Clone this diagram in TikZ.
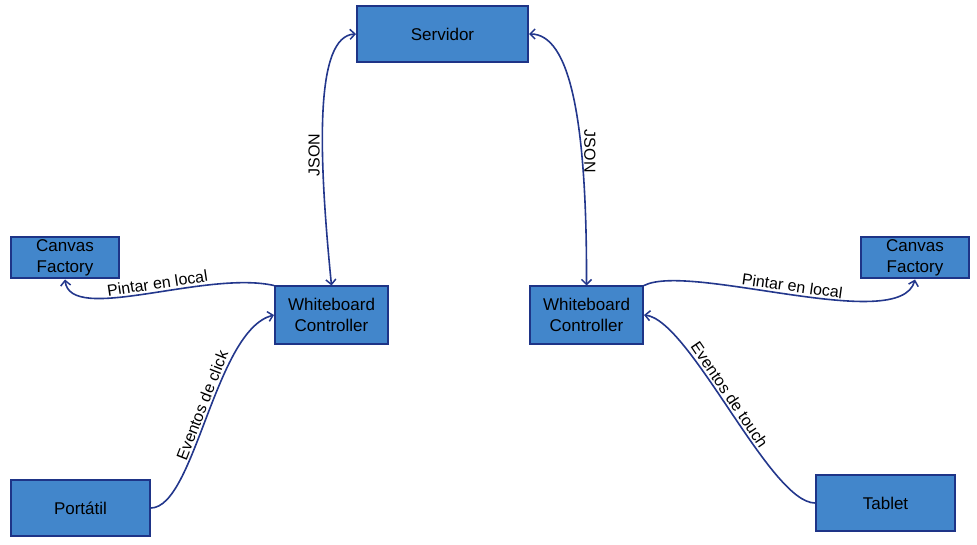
\documentclass[tikz,border=0pt]{standalone}
\usepackage{fontspec}
\setmainfont{Liberation Sans}
\usetikzlibrary{arrows.meta}
\definecolor{boxfill}{RGB}{66,134,203}
\definecolor{boxline}{RGB}{30,52,135}
\definecolor{linkcol}{RGB}{35,55,140}
\begin{document}
\begin{tikzpicture}[x=1pt,y=-1pt,
  >={Straight Barb[length=5pt,width=10pt,line width=1.5pt]},
  box/.style={draw=boxline,fill=boxfill,line width=2pt,inner sep=0pt,align=center,
    font=\fontsize{17}{21}\selectfont,text=black},
  link/.style={draw=linkcol,line width=1.6pt},
  lblfont/.style={font=\fontsize{16}{18}\selectfont,text=black,inner sep=2pt},
  lbl/.style={lblfont,sloped,above}]
\useasboundingbox (0,0) rectangle (977,545);
\node[box,minimum width=171pt,minimum height=56pt] (serv) at (442.5,34) {Servidor};
\node[box,minimum width=113pt,minimum height=57pt] (lwc) at (331.5,315) {Whiteboard\\Controller};
\node[box,minimum width=113pt,minimum height=57pt] (rwc) at (586.5,315) {Whiteboard\\Controller};
\node[box,minimum width=108pt,minimum height=41pt] (lcf) at (65,258) {Canvas\\Factory};
\node[box,minimum width=108pt,minimum height=41pt] (rcf) at (915,258) {Canvas\\Factory};
\node[box,minimum width=139pt,minimum height=56pt] (port) at (80.5,508) {Portátil};
\node[box,minimum width=139pt,minimum height=56pt] (tab) at (885.5,503) {Tablet};
% JSON links
\draw[link,<->]
  (lwc.north) .. controls (318,150) and (315,36) .. (serv.west)
  node[lblfont,pos=0.35,rotate=90,anchor=south] {JSON};
\draw[link,<->]
  (serv.east) .. controls (570,34) and (587,120) .. (rwc.north)
  node[lblfont,pos=0.68,rotate=-90,anchor=south] {JSON};
% Pintar en local
\draw[link,<-]
  (lcf.south) .. controls (70,325) and (205,270) .. (lwc.north west)
  node[lbl,pos=0.55] {Pintar en local};
\draw[link,->]
  (rwc.north east) .. controls (690,262) and (900,335) .. (rcf.south)
  node[lbl,pos=0.5] {Pintar en local};
% Eventos
\draw[link,->]
  (port.east) .. controls (195,507) and (215,330) .. (lwc.west)
  node[lbl,pos=0.53] {Eventos de click};
\draw[link,<-]
  (rwc.east) .. controls (690,320) and (770,503) .. (tab.west)
  node[lbl,pos=0.46] {Eventos de touch};
\end{tikzpicture}
\end{document}
